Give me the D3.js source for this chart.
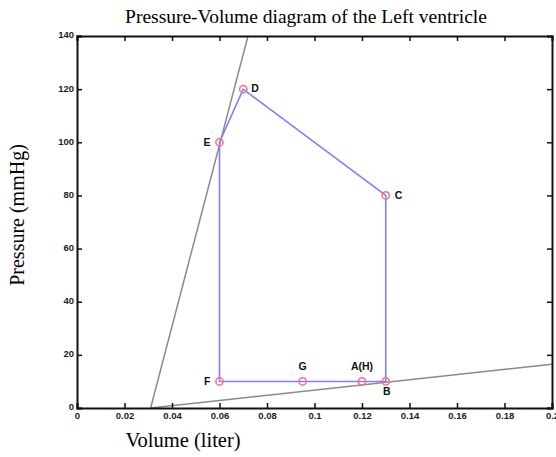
<!DOCTYPE html>
<html><head><meta charset="utf-8">
<script src="https://cdn.jsdelivr.net/npm/d3@7"></script>
<style>body{margin:0;background:#fff}svg{display:block}</style>
</head><body>
<svg id="c" width="556" height="457"></svg>
<script>
const pointNames = ["A(H)", "B", "C", "D", "E", "F", "G"];
const volumes    = [0.12, 0.13, 0.13, 0.07, 0.06, 0.06, 0.095];
const pressures  = [10, 10, 80, 120, 100, 10, 10];
const loopOrder  = ["A(H)", "B", "C", "D", "E", "F", "G", "A(H)"];
const steepLineV = [0.031, 0.072];
const steepLineP = [0, 140];
const flatLineV  = [0.031, 0.2];
const flatLineP  = [0, 16.5];
const xTicks = [0, 0.02, 0.04, 0.06, 0.08, 0.1, 0.12, 0.14, 0.16, 0.18, 0.2];
const yTicks = [0, 20, 40, 60, 80, 100, 120, 140];

const svg = d3.select("#c");
const x = d3.scaleLinear().domain([0, 0.2]).range([77, 552]);
const y = d3.scaleLinear().domain([0, 140]).range([408, 36]);

const pts = pointNames.map((n, i) => ({n, v: volumes[i], p: pressures[i]}));
const byName = Object.fromEntries(pts.map(d => [d.n, d]));

svg.append("defs").append("clipPath").attr("id", "clip")
  .append("rect").attr("x", 77).attr("y", 36).attr("width", 475).attr("height", 372);

const line = d3.line().x(d => x(d[0])).y(d => y(d[1]));
const g = svg.append("g").attr("clip-path", "url(#clip)");
g.append("path").datum(steepLineV.map((v, i) => [v, steepLineP[i]]))
  .attr("d", line).attr("fill", "none").attr("stroke", "#8a8a8a").attr("stroke-width", 1.5);
g.append("path").datum(flatLineV.map((v, i) => [v, flatLineP[i]]))
  .attr("d", line).attr("fill", "none").attr("stroke", "#8a8a8a").attr("stroke-width", 1.5);

g.append("path").datum(loopOrder.map(n => [byName[n].v, byName[n].p]))
  .attr("d", line).attr("fill", "none").attr("stroke", "#7f7fff").attr("stroke-width", 1.6);

g.selectAll("circle").data(pts).join("circle")
  .attr("cx", d => x(d.v)).attr("cy", d => y(d.p)).attr("r", 3.6)
  .attr("fill", "none").attr("stroke", "#ff6c80").attr("stroke-width", 1.5);

// axes with inward ticks
const fmt = d => d === 0 ? "0" : d3.format("~g")(d);
const axB = svg.append("g").attr("transform", "translate(0,408)")
  .call(d3.axisBottom(x).tickValues(xTicks).tickSize(-5).tickPadding(6).tickFormat(fmt));
const axT = svg.append("g").attr("transform", "translate(0,36)")
  .call(d3.axisTop(x).tickValues(xTicks).tickSize(-5).tickFormat(""));
const axL = svg.append("g").attr("transform", "translate(77,0)")
  .call(d3.axisLeft(y).tickValues(yTicks).tickSize(-5).tickPadding(3).tickFormat(fmt));
const axR = svg.append("g").attr("transform", "translate(552,0)")
  .call(d3.axisRight(y).tickValues(yTicks).tickSize(-5).tickFormat(""));
[axB, axT, axL, axR].forEach(a => {
  a.select(".domain").attr("stroke", "#111").attr("stroke-width", 2);
  a.selectAll(".tick line").attr("stroke", "#111").attr("stroke-width", 1.5);
  a.selectAll(".tick text").attr("font-family", "Liberation Sans, Arial, sans-serif")
    .attr("font-size", 9.5).attr("font-weight", "bold").attr("fill", "#1a1a2a");
});
axL.selectAll(".tick text").attr("dy", "0.2em");
axB.selectAll(".tick text").attr("dy", "0.5em");

// point labels
const lab = {"A(H)": [0, -11, "middle"], "B": [1, 14, "middle"], "C": [9, 4, "start"],
  "D": [8, 3, "start"], "E": [-9, 4, "end"], "F": [-9, 4, "end"], "G": [0, -11, "middle"]};
svg.selectAll("text.pl").data(pts).join("text").attr("class", "pl")
  .attr("x", d => x(d.v) + lab[d.n][0]).attr("y", d => y(d.p) + lab[d.n][1])
  .attr("text-anchor", d => lab[d.n][2])
  .attr("font-family", "Liberation Sans, Arial, sans-serif").attr("font-size", 10.5)
  .attr("font-weight", "bold").attr("fill", "#111").text(d => d.n);

const serif = "Liberation Serif, Times New Roman, serif";
svg.append("text").attr("x", 306).attr("y", 23).attr("text-anchor", "middle")
  .attr("font-family", serif).attr("font-size", 19.5).text("Pressure-Volume diagram of the Left ventricle");
svg.append("text").attr("x", 183).attr("y", 447).attr("text-anchor", "middle")
  .attr("font-family", serif).attr("font-size", 20.5).text("Volume (liter)");
svg.append("text").attr("transform", "translate(24,215) rotate(-90)").attr("text-anchor", "middle")
  .attr("font-family", serif).attr("font-size", 20).text("Pressure (mmHg)");
</script>
</body></html>
